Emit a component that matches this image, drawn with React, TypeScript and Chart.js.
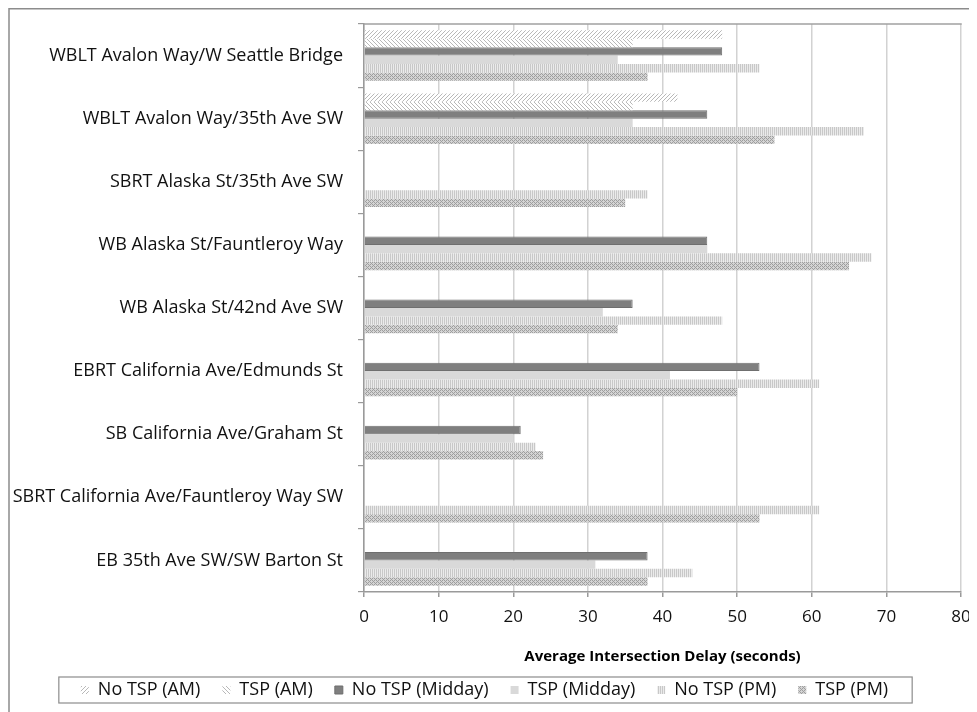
import React, { useEffect, useRef } from "react";
import { Chart, registerables } from "chart.js";

Chart.register(...registerables);

const categories = [
  "WBLT Avalon Way/W Seattle Bridge",
  "WBLT Avalon Way/35th Ave SW",
  "SBRT Alaska St/35th Ave SW",
  "WB Alaska St/Fauntleroy Way",
  "WB Alaska St/42nd Ave SW",
  "EBRT California Ave/Edmunds St",
  "SB California Ave/Graham St",
  "SBRT California Ave/Fauntleroy Way SW",
  "EB 35th Ave SW/SW Barton St",
];

const seriesNames = [
  "No TSP (AM)",
  "TSP (AM)",
  "No TSP (Midday)",
  "TSP (Midday)",
  "No TSP (PM)",
  "TSP (PM)",
];

const noTspAm = [48, 42, null, null, null, null, null, null, null];
const tspAm = [36, 36, null, null, null, null, null, null, null];
const noTspMidday = [48, 46, null, 46, 36, 53, 21, null, 38];
const tspMidday = [34, 36, null, 46, 32, 41, 20, null, 31];
const noTspPm = [53, 67, 38, 68, 48, 61, 23, 61, 44];
const tspPm = [38, 55, 35, 65, 34, 50, 24, 53, 38];

const xTicks = [0, 10, 20, 30, 40, 50, 60, 70, 80];
const xTitle = "Average Intersection Delay (seconds)";

const FONT = "'Open Sans', 'DejaVu Sans', sans-serif";

function tile(size: number, paint: (c: CanvasRenderingContext2D) => void) {
  const t = document.createElement("canvas");
  t.width = size;
  t.height = size;
  const c = t.getContext("2d")!;
  paint(c);
  return t;
}

function makePatterns(ctx: CanvasRenderingContext2D) {
  const forward = tile(4, (c) => {
    c.fillStyle = "#ffffff";
    c.fillRect(0, 0, 4, 4);
    c.fillStyle = "#b8b8b8";
    for (let i = 0; i < 4; i++) c.fillRect(3 - i, i, 1, 1);
  });
  const backward = tile(4, (c) => {
    c.fillStyle = "#ffffff";
    c.fillRect(0, 0, 4, 4);
    c.fillStyle = "#b8b8b8";
    for (let i = 0; i < 4; i++) c.fillRect(i, i, 1, 1);
  });
  const vertical = tile(2, (c) => {
    c.fillStyle = "#ebebeb";
    c.fillRect(0, 0, 2, 2);
    c.fillStyle = "#c8c8c8";
    c.fillRect(0, 0, 1, 2);
  });
  const weave = tile(4, (c) => {
    c.fillStyle = "#d4d4d4";
    c.fillRect(0, 0, 4, 4);
    c.fillStyle = "#9e9e9e";
    c.fillRect(0, 0, 1, 1);
    c.fillRect(2, 0, 1, 1);
    c.fillRect(1, 1, 1, 1);
    c.fillRect(0, 2, 1, 1);
    c.fillRect(2, 2, 1, 1);
    c.fillRect(3, 3, 1, 1);
  });
  return {
    forward: ctx.createPattern(forward, "repeat")!,
    backward: ctx.createPattern(backward, "repeat")!,
    vertical: ctx.createPattern(vertical, "repeat")!,
    weave: ctx.createPattern(weave, "repeat")!,
  };
}

// Frame around the whole chart, top edge of the plot area, and a box around the legend.
const framePlugin = {
  id: "frame",
  beforeDraw(chart: any) {
    const { ctx, width, height } = chart;
    ctx.save();
    ctx.strokeStyle = "#8c8c8c";
    ctx.lineWidth = 1.5;
    ctx.beginPath();
    ctx.moveTo(1, height);
    ctx.lineTo(1, 0.75);
    ctx.lineTo(width, 0.75);
    ctx.stroke();
    ctx.restore();
  },
  afterDraw(chart: any) {
    const { ctx, chartArea, legend } = chart;
    ctx.save();
    ctx.strokeStyle = "#a0a0a0";
    ctx.lineWidth = 1.5;
    ctx.beginPath();
    ctx.moveTo(chartArea.left, chartArea.top);
    ctx.lineTo(chartArea.right + 0.75, chartArea.top);
    ctx.stroke();
    if (legend && legend.legendHitBoxes && legend.legendHitBoxes.length) {
      const boxes = legend.legendHitBoxes;
      const minX = Math.min(...boxes.map((b: any) => b.left));
      const maxX = Math.max(...boxes.map((b: any) => b.left + b.width));
      const midY = boxes[0].top + boxes[0].height / 2;
      ctx.strokeStyle = "#8c8c8c";
      ctx.lineWidth = 1.2;
      ctx.strokeRect(minX - 22, midY - 13, maxX - minX + 46, 26);
    }
    ctx.restore();
  },
};

export default function App() {
  const ref = useRef<HTMLCanvasElement | null>(null);

  useEffect(() => {
    const canvas = ref.current!;
    const ctx = canvas.getContext("2d")!;
    const p = makePatterns(ctx);
    const values = [noTspAm, tspAm, noTspMidday, tspMidday, noTspPm, tspPm];
    const fills: any[] = [p.forward, p.backward, "#7f7f7f", "#d9d9d9", p.vertical, p.weave];
    const borders = ["rgba(0,0,0,0)", "rgba(0,0,0,0)", "#6f6f6f", "#d9d9d9", "rgba(0,0,0,0)", "rgba(0,0,0,0)"];

    const chart = new Chart(canvas, {
      type: "bar",
      data: {
        labels: categories,
        datasets: values.map((v, i) => ({
          label: seriesNames[i],
          data: v as any,
          backgroundColor: fills[i],
          borderColor: borders[i],
          borderWidth: i === 2 ? 1 : 0,
          categoryPercentage: 0.8,
          barPercentage: 1,
        })),
      },
      options: {
        indexAxis: "y",
        animation: false,
        responsive: false,
        devicePixelRatio: 1,
        layout: { padding: { top: 16, right: 16, left: 0, bottom: 3 } },
        plugins: {
          tooltip: { enabled: false },
          legend: {
            position: "bottom",
            labels: {
              boxWidth: 8,
              boxHeight: 8,
              padding: 22,
              color: "#111",
              font: { family: FONT, size: 18 },
            },
          },
        },
        scales: {
          x: {
            min: 0,
            max: 80,
            afterBuildTicks: (s: any) => {
              s.ticks = xTicks.map((v) => ({ value: v }));
            },
            grid: { color: "#d2d2d2", lineWidth: 1.5, tickLength: 5, tickColor: "#9a9a9a" },
            border: { color: "#9a9a9a", width: 1.5 },
            ticks: { color: "#111", padding: 10, font: { family: FONT, size: 17 } },
            title: {
              display: true,
              text: xTitle,
              color: "#000",
              padding: { top: 0, bottom: -7 },
              font: { family: FONT, size: 15, weight: "bold" },
            },
            afterFit: (s: any) => {
              s.height = 67;
              s.paddingLeft = 0;
              s.paddingRight = 16;
            },
          },
          y: {
            offset: true,
            grid: { offset: true, drawOnChartArea: false, tickLength: 6, color: "#9a9a9a", lineWidth: 1.2 },
            border: { color: "#9a9a9a", width: 1.5 },
            ticks: { color: "#111", padding: 15, font: { family: FONT, size: 18 } },
            afterFit: (s: any) => {
              s.width = 356;
              s.paddingTop = 0;
              s.paddingBottom = 0;
            },
          },
        },
      },
      plugins: [framePlugin],
    } as any);

    return () => chart.destroy();
  }, []);

  return <canvas ref={ref} width={969} height={704} style={{ display: "block" }} />;
}
